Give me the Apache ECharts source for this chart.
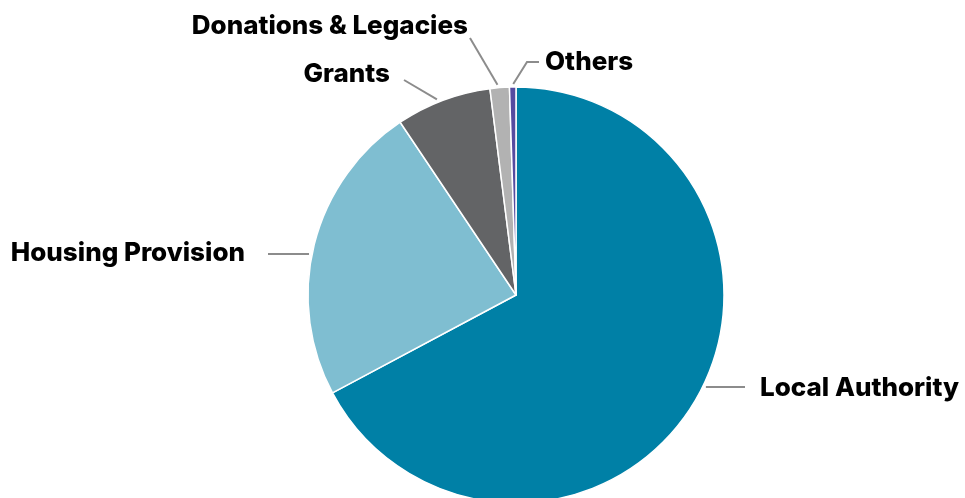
<!DOCTYPE html>
<html>
<head>
<meta charset="utf-8">
<script src="https://cdn.jsdelivr.net/npm/echarts@6/dist/echarts.min.js"></script>
<style>
  html, body { margin: 0; padding: 0; background: #ffffff; }
  #chart { width: 965px; height: 498px; }
</style>
</head>
<body>
<div id="chart"></div>
<script>
// Income sources (share of total, %)
const categories = ['Local Authority', 'Housing Provision', 'Grants', 'Donations & Legacies', 'Others'];
const shares = [67.2, 23.4, 7.4, 1.5, 0.5];
const sliceColors = ['#0080A6', '#7FBED1', '#636466', '#B2B2B2', '#564BA0'];

// Pie geometry (pixels)
const CX = 516, CY = 295, R = 208;

// Where each label sits and where its leader line starts, plus the
// direction the leader runs towards the pie.
const labelSpots = {
  'Local Authority':      { x: 760, y: 388, align: 'left',  guide: [[745, 387]], dir: [-1, 0] },
  'Housing Provision':    { x: 245, y: 253, align: 'right', guide: [[268, 254]], dir: [1, 0] },
  'Grants':               { x: 390, y: 74,  align: 'right', guide: [[404, 80]],  dir: [34, 20] },
  'Donations & Legacies': { x: 468, y: 26,  align: 'right', guide: [[470, 38]],  dir: [27, 46] },
  'Others':               { x: 545, y: 62,  align: 'left',  guide: [[539, 62], [527, 62]], dir: [-15, 24] }
};

// Intersect a ray (point p, direction d) with a circle slightly outside the rim.
function hitRim(p, d, r) {
  const len = Math.hypot(d[0], d[1]);
  const ux = d[0] / len, uy = d[1] / len;
  const fx = p[0] - CX, fy = p[1] - CY;
  const b = fx * ux + fy * uy;
  const c = fx * fx + fy * fy - r * r;
  const disc = b * b - c;
  const t = -b - Math.sqrt(Math.max(disc, 0));
  return [p[0] + ux * t, p[1] + uy * t];
}

const chart = echarts.init(document.getElementById('chart'), null, { renderer: 'canvas' });

chart.setOption({
  animation: false,
  series: [{
    type: 'pie',
    center: [CX, CY],
    radius: [0, R],
    startAngle: 90,
    clockwise: true,
    avoidLabelOverlap: false,
    itemStyle: { borderColor: '#ffffff', borderWidth: 1.5 },
    label: {
      show: true,
      position: 'outside',
      formatter: '{b}',
      color: '#000000',
      fontFamily: 'Inter',
      fontWeight: 800,
      fontSize: 26
    },
    labelLine: {
      show: true,
      lineStyle: { color: '#8C8C8C', width: 2 }
    },
    labelLayout: function (params) {
      const spot = labelSpots[categories[params.dataIndex]];
      const last = spot.guide[spot.guide.length - 1];
      const rim = hitRim(last, spot.dir, R + 3);
      return {
        x: spot.x,
        y: spot.y,
        align: spot.align,
        verticalAlign: 'middle',
        labelLinePoints: spot.guide.concat([rim])
      };
    },
    data: categories.map(function (name, i) {
      return { name: name, value: shares[i], itemStyle: { color: sliceColors[i] } };
    })
  }]
});
</script>
</body>
</html>
